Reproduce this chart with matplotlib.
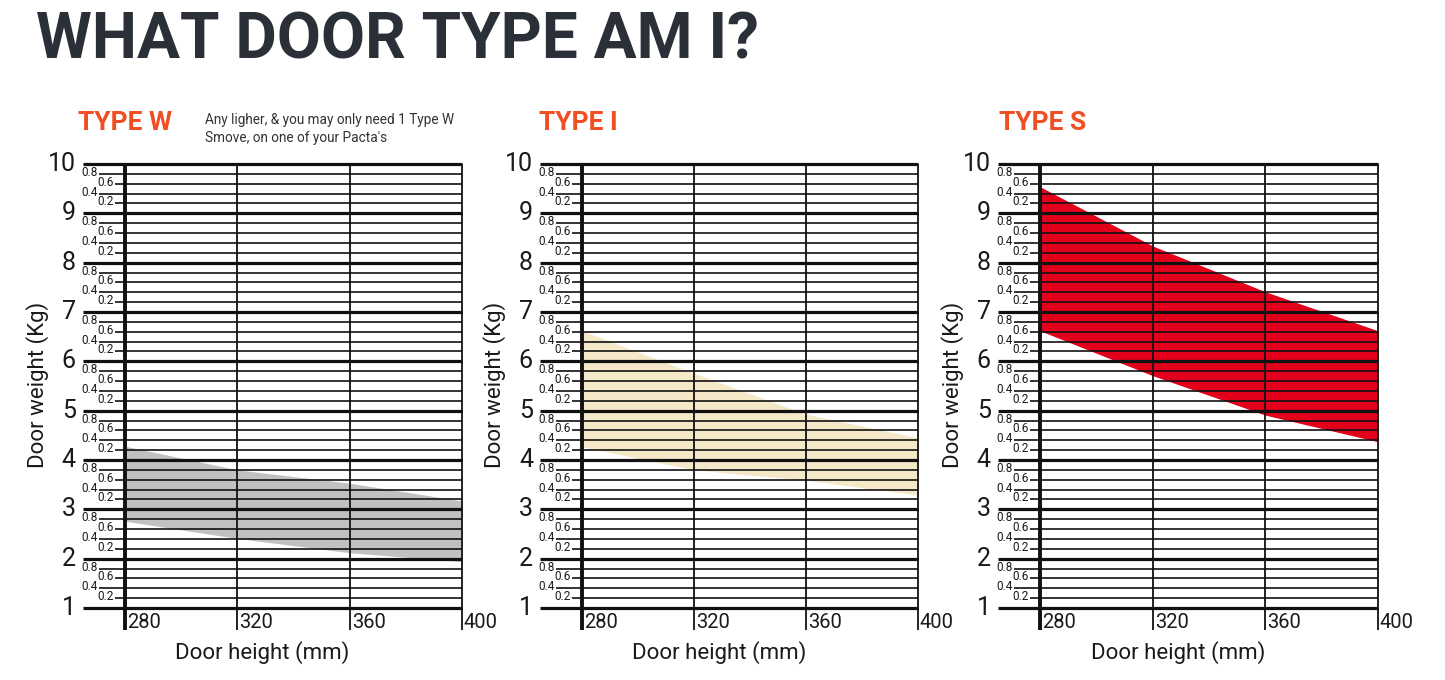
import numpy as np
import matplotlib
matplotlib.use("Agg")
import matplotlib.pyplot as plt

# ── Data ─────────────────────────────────────────────────────────────────────
heights = [280, 320, 360, 400]                 # door height (mm)
w_upper = [4.28, 3.80, 3.53, 3.17]             # Type W band, kg
w_lower = [2.76, 2.41, 2.12, 1.94]
i_upper = [6.62, 5.76, 4.93, 4.45]             # Type I band
i_lower = [4.27, 3.80, 3.59, 3.29]
s_upper = [9.54, 8.34, 7.41, 6.62]             # Type S band
s_lower = [6.62, 5.71, 4.91, 4.37]

panel_titles = ["TYPE W", "TYPE I", "TYPE S"]
x_ticks = [280, 320, 360, 400]
y_major = list(range(1, 11))
minor_labels = {1: "0.2", 2: "0.4", 3: "0.6", 4: "0.8"}
note = "Any ligher, & you may only need 1 Type W\nSmove, on one of your Pacta's"

# ── Style ─────────────────────────────────────────────────────────────────────
C_TITLE = "#2b3038"
C_TYPE  = "#f04e23"
C_LINE  = "#111111"
C_TEXT  = "#1a1a1a"
band_colors = ["#c1c1c1", "#f4e8c9", "#e2001a"]

plt.rcParams["font.family"] = ["Roboto", "DejaVu Sans"]

W, H = 1445, 680
fig = plt.figure(figsize=(W / 100, H / 100), dpi=100)
fig.patch.set_facecolor("white")

fig.text(36 / W, 1 - 41 / H, "WHAT DOOR TYPE AM I?", fontsize=46,
         fontweight="bold", color=C_TITLE, ha="left", va="center")

# pixel extents of each plot area
lefts  = [125, 582, 1040]
rights = [462, 918, 1378]
top_px, bot_px = 164, 608
title_x = [78, 539, 999]

bands = [(w_lower, w_upper), (i_lower, i_upper), (s_lower, s_upper)]

for p in range(3):
    l, r = lefts[p], rights[p]
    ax = fig.add_axes([l / W, 1 - bot_px / H, (r - l) / W, (bot_px - top_px) / H])
    ax.set_xlim(280, 400)
    ax.set_ylim(1, 10)
    ax.axis("off")

    px_mm = (r - l) / 120.0
    px_kg = (bot_px - top_px) / 9.0
    dx = lambda px: px / px_mm
    dy = lambda px: px / px_kg

    lo, hi = bands[p]
    ax.fill_between(heights, lo, hi, color=band_colors[p], lw=0, zorder=1)

    # horizontal grid every 0.2 kg
    for i in range(46):
        y = 1 + 0.2 * i
        frac = i % 5
        if frac == 0:
            ax.plot([280 - dx(42), 400], [y, y], color=C_LINE, lw=2.3,
                    clip_on=False, zorder=3, solid_capstyle="butt")
            ax.text(280 - dx(49), y, str(y_major[i // 5]), fontsize=18,
                    ha="right", va="center", color=C_TEXT)
        else:
            start = 280 - (dx(26) if frac in (2, 4) else dx(10))
            ax.plot([start, 400], [y, y], color=C_LINE, lw=1.2,
                    clip_on=False, zorder=3, solid_capstyle="butt")
            ax.text(start - dx(1.5), y + dy(1.5), minor_labels[frac], fontsize=8.5,
                    ha="right", va="center", color=C_TEXT)

    # vertical lines with ticks below the bottom line
    for xv in x_ticks:
        ax.plot([xv, xv], [1 - dy(22), 10], color=C_LINE,
                lw=2.8 if xv == 280 else 1.3, clip_on=False, zorder=3,
                solid_capstyle="butt")
        ax.text(xv + dx(2), 1 - dy(14), str(xv), fontsize=14.5,
                ha="left", va="center", color=C_TEXT)

    ax.text(329, 1 - dy(45), "Door height (mm)", fontsize=16,
            ha="center", va="center", color=C_TEXT)
    ax.text(280 - dx(87), 1 + dy(223), "Door weight (Kg)", fontsize=16,
            rotation=90, ha="center", va="center", color=C_TEXT)

    fig.text(title_x[p] / W, 1 - 123 / H, panel_titles[p], fontsize=19,
             fontweight="bold", color=C_TYPE, ha="left", va="center")

fig.text(205 / W, 1 - 129 / H, note, fontsize=9.8, color="#333333",
         ha="left", va="center", linespacing=1.4)

fig.savefig("out.png", dpi=100)
